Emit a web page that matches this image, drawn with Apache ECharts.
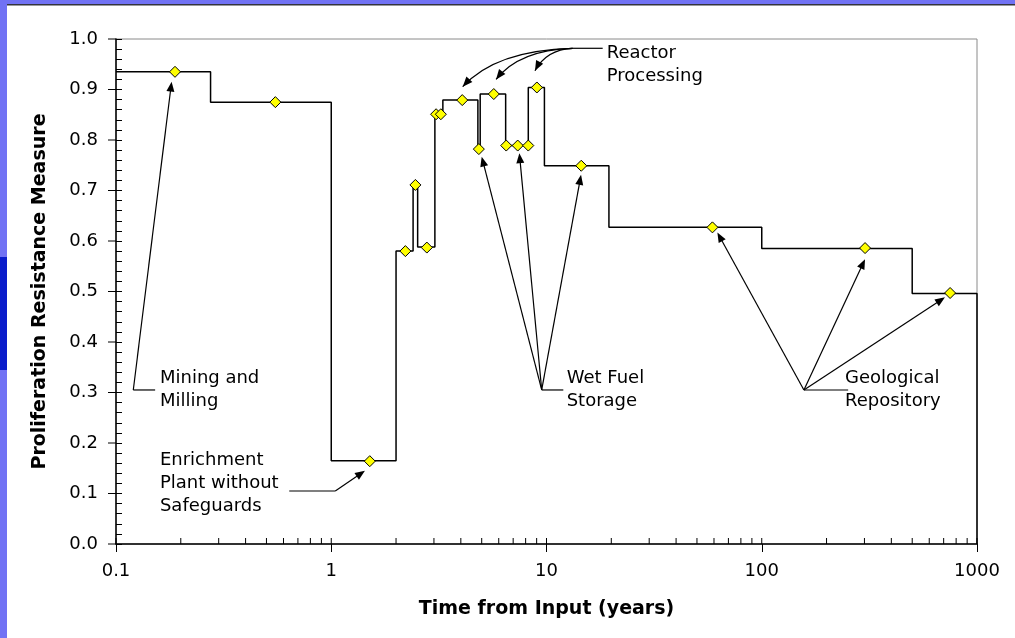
<!DOCTYPE html>
<html><head><meta charset="utf-8">
<script src="https://cdn.jsdelivr.net/npm/echarts@6/dist/echarts.min.js"></script>
<style>html,body{margin:0;padding:0;background:#fff;}#c{width:1015px;height:638px;}</style>
</head><body><div id="c"></div>
<script>
// ---- data ----
const stepEdges  = [0.1, 0.275, 1.0, 2.0, 2.4, 2.52, 3.03, 3.3, 4.8, 4.92, 6.46, 8.23, 9.78, 19.5, 100, 500, 1000];
const stepLevels = [0.935, 0.875, 0.165, 0.58, 0.711, 0.588, 0.851, 0.879, 0.782, 0.891, 0.789, 0.904, 0.749, 0.627, 0.585, 0.496];
const markerX = [0.188, 0.55, 1.51, 2.21, 2.46, 2.78, 3.07, 3.23, 4.06, 4.85, 5.69, 6.5, 7.35, 8.23, 9.02, 14.5, 59, 302, 750];
const markerY = [0.935, 0.875, 0.164, 0.58, 0.711, 0.587, 0.851, 0.851, 0.879, 0.782, 0.891, 0.789, 0.789, 0.789, 0.904, 0.749, 0.627, 0.586, 0.497];
const xTickValues = [0.1, 1, 10, 100, 1000];
const xTickLabels = ['0.1', '1', '10', '100', '1000'];
const xMinorTickValues = [0.2,0.3,0.4,0.5,0.6,0.7,0.8,0.9, 2,3,4,5,6,7,8,9, 20,30,40,50,60,70,80,90, 200,300,400,500,600,700,800,900];
const yTickValues = [0, 0.1, 0.2, 0.3, 0.4, 0.5, 0.6, 0.7, 0.8, 0.9, 1.0];
const xTitle = 'Time from Input (years)';
const yTitle = 'Proliferation Resistance Measure';
// annotations in data coordinates: text anchor, leader (text side -> branch point), arrow tips
const annotations = [
  { text: 'Mining and\nMilling', at: [0.160, 0.305], leader: [[0.152, 0.305], [0.1203, 0.305]], tips: [[0.1813, 0.9155]], curved: false },
  { text: 'Enrichment\nPlant without\nSafeguards', at: [0.160, 0.1208], leader: [[0.638, 0.105], [1.044, 0.105]], tips: [[1.434, 0.145]], curved: false },
  { text: 'Wet Fuel\nStorage', at: [12.41, 0.305], leader: [[11.97, 0.305], [9.5, 0.305]], tips: [[5.0, 0.767], [7.48, 0.774], [14.47, 0.731]], curved: false },
  { text: 'Geological\nRepository', at: [243.7, 0.305], leader: [[252, 0.305], [157, 0.305]], tips: [[62.2, 0.617], [301.8, 0.564], [710, 0.4885]], curved: false },
  { text: 'Reactor\nProcessing', at: [19.04, 0.948], leader: [[18.24, 0.9816], [13.23, 0.9816]], tips: [[4.08, 0.9055], [5.83, 0.920], [8.84, 0.937]], curved: true }
];

// ---- build ----
const FONT = 'DejaVu Sans';
const stepPoints = [];
for (let i = 0; i < stepLevels.length; i++) {
  stepPoints.push([stepEdges[i], stepLevels[i]]);
  stepPoints.push([stepEdges[i + 1], stepLevels[i]]);
}
stepPoints.push([stepEdges[stepEdges.length - 1], 0]);
const markers = markerX.map((x, i) => [x, markerY[i]]);

const chart = echarts.init(document.getElementById('c'), null, { renderer: 'canvas' });
const option = {
  backgroundColor: '#ffffff',
  animation: false,
  grid: { left: 116, right: 38, top: 39, bottom: 94, show: true, borderColor: '#8a8a8a', borderWidth: 1, backgroundColor: 'transparent' },
  xAxis: {
    type: 'log', logBase: 10, min: 0.1, max: 1000,
    name: xTitle, nameLocation: 'middle', nameGap: 56,
    nameTextStyle: { fontFamily: FONT, fontWeight: 'bold', fontSize: 19, color: '#000' },
    axisLine: { show: true, onZero: false, lineStyle: { color: '#000', width: 1.5 } },
    axisTick: { show: true, inside: false, length: 8, lineStyle: { color: '#000', width: 1 } },
    minorTick: { show: false },
    axisLabel: { fontFamily: FONT, fontSize: 18, color: '#000', margin: 18,
      formatter: function (v) {
        let best = 0, bd = Infinity;
        xTickValues.forEach((t, i) => { const d = Math.abs(Math.log10(v) - Math.log10(t)); if (d < bd) { bd = d; best = i; } });
        return xTickLabels[best];
      } },
    splitLine: { show: false }
  },
  yAxis: {
    type: 'value', min: 0, max: 1, interval: 0.1,
    name: yTitle, nameLocation: 'middle', nameGap: 66,
    nameTextStyle: { fontFamily: FONT, fontWeight: 'bold', fontSize: 19, color: '#000' },
    axisLine: { show: true, lineStyle: { color: '#000', width: 1.5 } },
    axisTick: { show: true, inside: true, length: 6, lineStyle: { color: '#000', width: 1 } },
    minorTick: { show: true, splitNumber: 5, length: 6, lineStyle: { color: '#000', width: 1 } },
    axisLabel: { fontFamily: FONT, fontSize: 18, color: '#000', margin: 18, formatter: v => v.toFixed(1) },
    splitLine: { show: false }, minorSplitLine: { show: false }
  },
  series: [
    { type: 'line', data: stepPoints, showSymbol: false, symbol: 'none', lineStyle: { color: '#000', width: 1.5 }, z: 3, silent: true },
    { type: 'scatter', data: markers, symbol: 'diamond', symbolSize: [11, 11],
      itemStyle: { color: '#FFFF00', borderColor: '#000', borderWidth: 1, opacity: 1 }, z: 5, silent: true }
  ]
};
chart.setOption(option);

// ---- decorations computed through the chart's own scales ----
function px(p) { return chart.convertToPixel({ gridIndex: 0 }, p); }
const g = [];
// slide frame
g.push({ type: 'rect', shape: { x: 0, y: 0, width: 1015, height: 4 }, style: { fill: '#7172F4' }, z: 100 });
g.push({ type: 'rect', shape: { x: 0, y: 4, width: 1015, height: 1.5 }, style: { fill: '#34343c' }, z: 100 });
g.push({ type: 'rect', shape: { x: 0, y: 0, width: 7, height: 638 }, style: { fill: '#7172F4' }, z: 100 });
g.push({ type: 'rect', shape: { x: 0, y: 257, width: 7, height: 113 }, style: { fill: '#0a1ccb' }, z: 101 });

const origin = px([0.1, 0]);
// x minor ticks (inside) and major inside parts
xMinorTickValues.concat(xTickValues).forEach(v => {
  const p = px([v, 0]);
  g.push({ type: 'line', shape: { x1: p[0], y1: p[1], x2: p[0], y2: p[1] - 6 }, style: { stroke: '#000', lineWidth: 1 }, z: 50 });
});
// y major outside parts
yTickValues.forEach(v => {
  const p = px([0.1, v]);
  g.push({ type: 'line', shape: { x1: p[0] - 8, y1: p[1], x2: p[0], y2: p[1] }, style: { stroke: '#000', lineWidth: 1 }, z: 50 });
});

function arrowHead(tip, from) {
  const dx = tip[0] - from[0], dy = tip[1] - from[1];
  const L = Math.hypot(dx, dy) || 1;
  const ux = dx / L, uy = dy / L;
  const len = 10, hw = 4;
  const bx = tip[0] - ux * len, by = tip[1] - uy * len;
  return { type: 'polygon', shape: { points: [[tip[0], tip[1]], [bx - uy * hw, by + ux * hw], [bx + uy * hw, by - ux * hw]] },
    style: { fill: '#000' }, z: 60 };
}

annotations.forEach(a => {
  const t = px(a.at);
  g.push({ type: 'text', style: { text: a.text, x: t[0], y: t[1], fontSize: 18, fontFamily: FONT, fill: '#000',
    align: 'left', verticalAlign: 'middle', lineHeight: 23 }, z: 60 });
  const l0 = px(a.leader[0]), l1 = px(a.leader[1]);
  g.push({ type: 'line', shape: { x1: l0[0], y1: l0[1], x2: l1[0], y2: l1[1] }, style: { stroke: '#000', lineWidth: 1.2 }, z: 60 });
  a.tips.forEach(tp => {
    const T = px(tp);
    if (a.curved) {
      const C = [T[0] + (l1[0] - T[0]) * 0.3, l1[1] + (T[1] - l1[1]) * 0.05];
      g.push({ type: 'bezierCurve', shape: { x1: l1[0], y1: l1[1], x2: T[0], y2: T[1], cpx1: C[0], cpy1: C[1] },
        style: { stroke: '#000', lineWidth: 1.2, fill: null }, z: 60 });
      g.push(arrowHead(T, C));
    } else {
      const dx = T[0] - l1[0], dy = T[1] - l1[1], L = Math.hypot(dx, dy);
      const e = [T[0] - dx / L * 8, T[1] - dy / L * 8];
      g.push({ type: 'line', shape: { x1: l1[0], y1: l1[1], x2: e[0], y2: e[1] }, style: { stroke: '#000', lineWidth: 1.2 }, z: 60 });
      g.push(arrowHead(T, l1));
    }
  });
});
chart.setOption({ graphic: g });
</script></body></html>
